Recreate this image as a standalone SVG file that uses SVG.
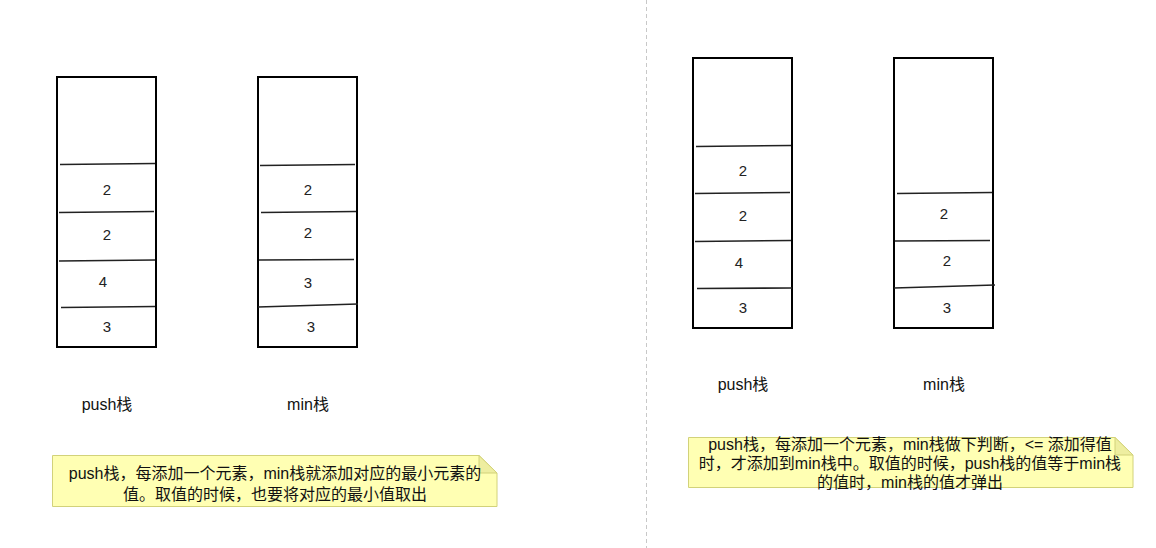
<svg xmlns="http://www.w3.org/2000/svg" width="1156" height="548" viewBox="0 0 1156 548">
<style>
.box{fill:#fff;stroke:#000;stroke-width:2}
.div{stroke:#222;stroke-width:1.6;fill:none}
.num{font-family:"Liberation Sans","Noto Sans CJK SC",sans-serif;font-size:15px;fill:#222;text-anchor:middle}
.lbl{font-family:"Liberation Sans","Noto Sans CJK SC",sans-serif;font-size:16px;fill:#111;text-anchor:middle}
.note{fill:#ffffb3;stroke:#d2d27a;stroke-width:1}
.fold{fill:#eeeea0;stroke:#d2d27a;stroke-width:1}
.nt{font-family:"Liberation Sans","Noto Sans CJK SC",sans-serif;font-size:16px;fill:#111;text-anchor:middle}
</style>
<rect width="1156" height="548" fill="#fff"/>
<line x1="646.5" y1="0" x2="646.5" y2="548" stroke="#c8c8c8" stroke-width="1" stroke-dasharray="4,3"/>
<g id="stack1">
<rect class="box" x="57" y="77" width="99" height="270"/>
<path class="div" d="M60 164.5L155 163.5M59 212.5L154 211.5M59 261L155 260M61 307.5L155 306.5"/>
<text class="num" x="107" y="195">2</text>
<text class="num" x="107" y="240">2</text>
<text class="num" x="103" y="287">4</text>
<text class="num" x="107" y="332">3</text>
<text class="lbl" x="107" y="410">push栈</text>
</g>
<g id="stack2">
<rect class="box" x="258" y="77" width="99" height="270"/>
<path class="div" d="M260 165.5L355 164.5M261 212.5L356 211.5M259 260L354 259.5M258 307L358 304"/>
<text class="num" x="308" y="195">2</text>
<text class="num" x="308" y="238">2</text>
<text class="num" x="308" y="288">3</text>
<text class="num" x="311" y="332">3</text>
<text class="lbl" x="308" y="410">min栈</text>
</g>
<g id="note1">
<path class="note" d="M52.5 455.5H479L497 473V506.5H52.5Z"/>
<path class="fold" d="M479 455.5V473H497Z"/>
<text class="nt" x="275" y="479">push栈，每添加一个元素，min栈就添加对应的最小元素的</text>
<text class="nt" x="275" y="500">值。取值的时候，也要将对应的最小值取出</text>
</g>
<g id="stack3">
<rect class="box" x="693" y="58" width="99" height="270"/>
<path class="div" d="M696 146.5L791 145.5M695 193.5L790 192.5M695 241.5L791 240.5M697 288.5L792 288"/>
<text class="num" x="743" y="176">2</text>
<text class="num" x="743" y="221">2</text>
<text class="num" x="739" y="268">4</text>
<text class="num" x="743" y="313">3</text>
<text class="lbl" x="743" y="390">push栈</text>
</g>
<g id="stack4">
<rect class="box" x="894" y="58" width="99" height="270"/>
<path class="div" d="M897 193.5L992 192.5M895 241L990 240.5M894 288L995 285"/>
<text class="num" x="944" y="219">2</text>
<text class="num" x="947" y="266">2</text>
<text class="num" x="947" y="313">3</text>
<text class="lbl" x="944" y="390">min栈</text>
</g>
<g id="note2">
<path class="note" d="M688.5 437.5H1115L1133 455V487.5H688.5Z"/>
<path class="fold" d="M1115 437.5V455H1133Z"/>
<text class="nt" x="910" y="450">push栈，每添加一个元素，min栈做下判断，&lt;= 添加得值</text>
<text class="nt" x="910" y="469">时，才添加到min栈中。取值的时候，push栈的值等于min栈</text>
<text class="nt" x="910" y="488">的值时，min栈的值才弹出</text>
</g>
</svg>
